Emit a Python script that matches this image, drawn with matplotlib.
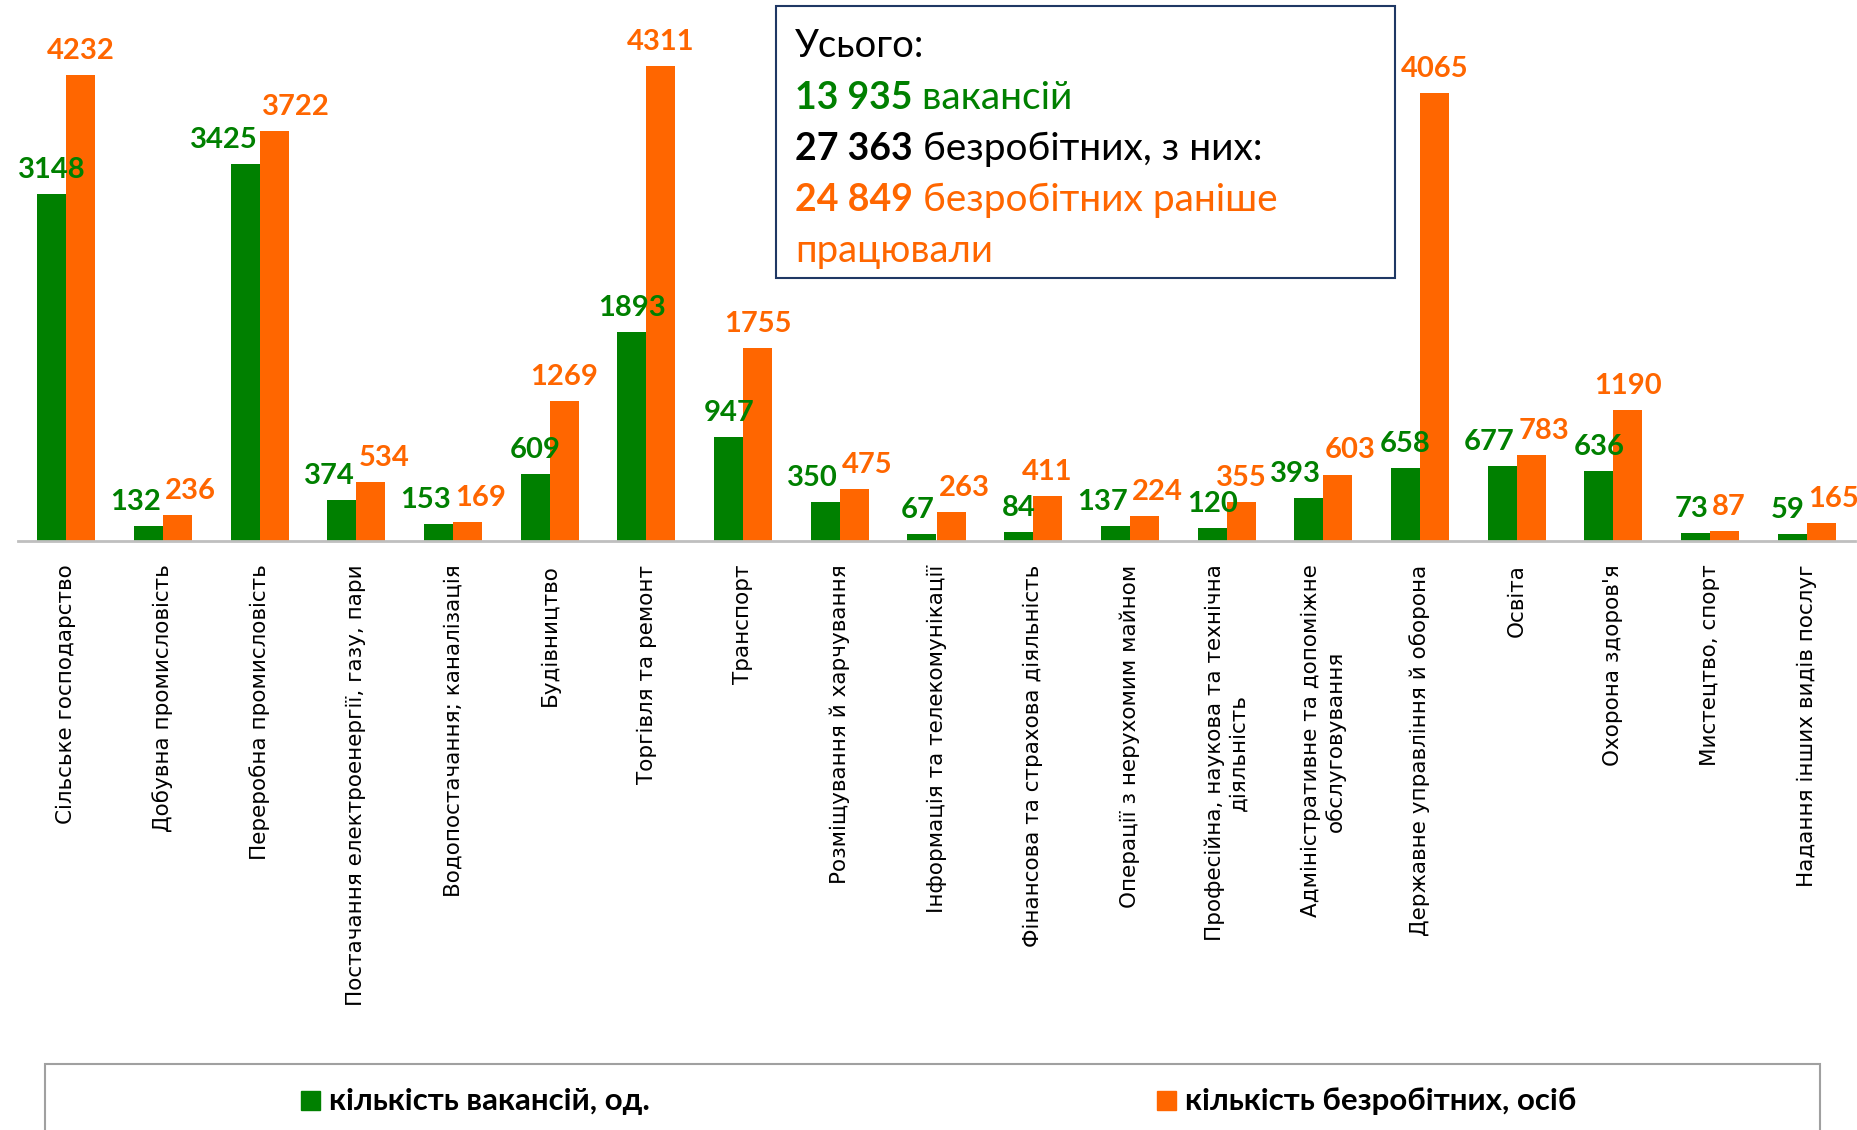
import numpy as np
import matplotlib
matplotlib.use("Agg")
from matplotlib import pyplot as plt
from matplotlib.patches import Rectangle

# data
categories = [
    "Сільське господарство",
    "Добувна промисловість",
    "Переробна промисловість",
    "Постачання електроенергії, газу, пари",
    "Водопостачання; каналізація",
    "Будівництво",
    "Торгівля та ремонт",
    "Транспорт",
    "Розміщування й харчування",
    "Інформація та телекомунікації",
    "Фінансова та страхова діяльність",
    "Операції з нерухомим майном",
    "Професійна, наукова та технічна\nдіяльність",
    "Адміністративне та допоміжне\nобслуговування",
    "Державне управління й оборона",
    "Освіта",
    "Охорона здоров'я",
    "Мистецтво, спорт",
    "Надання інших видів послуг",
]
vacancies = [3148, 132, 3425, 374, 153, 609, 1893, 947, 350, 67, 84, 137, 120,
             393, 658, 677, 636, 73, 59]
unemployed = [4232, 236, 3722, 534, 169, 1269, 4311, 1755, 475, 263, 411, 224,
              355, 603, 4065, 783, 1190, 87, 165]
legend_labels = ["кількість вакансій, од.", "кількість безробітних, осіб"]
total_vacancies = "13 935"
total_unemployed = "27 363"
total_worked = "24 849"

GREEN = "#008000"
ORANGE = "#FF6600"
W, H = 1858, 1130

fig = plt.figure(figsize=(W / 100, H / 100), dpi=100)
ax = fig.add_axes([18 / W, 1 - 541 / H, (1855 - 18) / W, 541 / H])

x = np.arange(len(categories))
bw = 0.3
ax.bar(x - bw / 2, vacancies, bw, color=GREEN, zorder=2)
ax.bar(x + bw / 2, unemployed, bw, color=ORANGE, zorder=2)

ax.set_xlim(-0.5, len(categories) - 0.5)
ax.set_ylim(0, 4910)
ax.set_yticks([])
for s in ["top", "left", "right"]:
    ax.spines[s].set_visible(False)
ax.spines["bottom"].set_color("#BFBFBF")
ax.spines["bottom"].set_linewidth(2)

ax.set_xticks(x)
ax.set_xticklabels(categories, rotation=90, fontsize=15.5, family="DejaVu Sans",
                   multialignment="center")
ax.tick_params(axis="x", length=0, pad=17)

# value labels: side by side when the pair is close in height, else centred
diff = [abs(g - o) for g, o in zip(vacancies, unemployed)]
side = [d < 300 for d in diff]
for i in range(len(side) - 1):
    # avoid clash with the next group's green label
    if (side[i] and side[i + 1] and diff[i] >= 220
            and abs(unemployed[i] - vacancies[i + 1]) < 250):
        side[i] = False

lab = dict(fontsize=21, fontweight="bold", family="Lato", va="bottom",
           textcoords="offset points", xytext=(0, 8))
for i, (g, o) in enumerate(zip(vacancies, unemployed)):
    if side[i]:
        ax.annotate(str(g), (i - 0.02, g), ha="right", color=GREEN, **lab)
        ax.annotate(str(o), (i + 0.02, o), ha="left", color=ORANGE, **lab)
    else:
        ax.annotate(str(g), (i - bw / 2, g), ha="center", color=GREEN, **lab)
        ax.annotate(str(o), (i + bw / 2, o), ha="center", color=ORANGE, **lab)

# totals box
fig.patches.append(Rectangle((776 / W, 1 - 278 / H), 619 / W, 272 / H,
                             transform=fig.transFigure, facecolor="white",
                             edgecolor="#1F3864", linewidth=1.5))
tx = 795 / W
lines = [
    (None, "Усього:", "black"),
    (total_vacancies, " вакансій", GREEN),
    (total_unemployed, " безробітних, з них:", "black"),
    (total_worked, " безробітних раніше", ORANGE),
    (None, "працювали", ORANGE),
]
ys = [57, 109, 160, 211, 262]
renderer = fig.canvas.get_renderer()
for (bold, rest, col), yy in zip(lines, ys):
    y = 1 - yy / H
    if bold is None:
        fig.text(tx, y, rest, color=col, fontsize=27.5, family="Lato", va="baseline")
    else:
        t = fig.text(tx, y, bold, color=col, fontsize=27, family="Lato",
                     fontweight="bold", va="baseline")
        bb = t.get_window_extent(renderer)
        fig.text(bb.x1 / W, y, rest, color=col, fontsize=28, family="Lato",
                 va="baseline")

# legend frame
fig.patches.append(Rectangle((45 / W, -0.05), (1820 - 45) / W, 0.05 + 1 - 1064 / H,
                             transform=fig.transFigure, facecolor="white",
                             edgecolor="#A0A0A0", linewidth=1.5))
for col, lx, label in [(GREEN, 301, legend_labels[0]), (ORANGE, 1157, legend_labels[1])]:
    fig.patches.append(Rectangle((lx / W, 1 - 1110 / H), 19 / W, 19 / H,
                                 transform=fig.transFigure, color=col))
    fig.text((lx + 28) / W, 1 - 1101 / H, label, fontsize=22.5, fontweight="bold",
             family="Lato", va="center")

fig.savefig("out.png", dpi=100)
